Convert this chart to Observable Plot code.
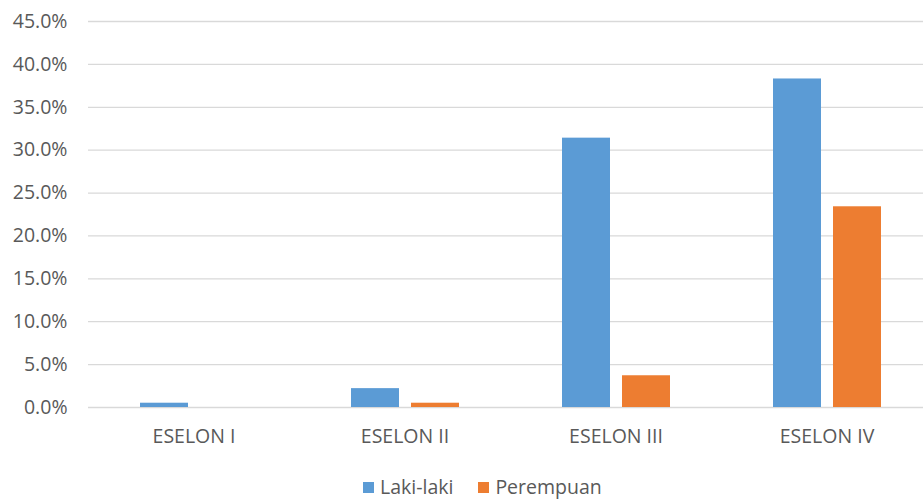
<!DOCTYPE html>
<html>
<head>
<meta charset="utf-8">
<script src="https://cdn.jsdelivr.net/npm/d3@7"></script>
<script src="https://cdn.jsdelivr.net/npm/@observablehq/plot@0.6"></script>
<style>
  body { margin: 0; background: #fff; font-family: "Open Sans", "Noto Sans", sans-serif; overflow: hidden; }
  #chart { width: 923px; height: 460px; overflow: hidden; }
  #chart svg { max-width: none !important; }
  #chart svg text { font-size: 19.5px !important; fill: #595959; }
  #legend { display: flex; align-items: center; height: 36px; margin-top: 9px; padding-left: 363px; font-size: 19.5px; line-height: 1; color: #595959; }
  #legend .item { display: flex; align-items: center; margin-right: 25px; }
  #legend .sw { width: 11px; height: 11px; margin-right: 6px; }
</style>
</head>
<body>
<div id="chart"></div>
<div id="legend"></div>
<script>
const categories = ["ESELON I", "ESELON II", "ESELON III", "ESELON IV"];
const series = ["Laki-laki", "Perempuan"];
const laki = [0.5, 2.2, 31.4, 38.3];
const perempuan = [0, 0.5, 3.7, 23.4];
const yTicks = [0, 5, 10, 15, 20, 25, 30, 35, 40, 45];
const colors = ["#5b9bd5", "#ed7d31"];

const data = [];
categories.forEach((c, i) => {
  data.push({cat: c, series: series[0], value: laki[i]});
  data.push({cat: c, series: series[1], value: perempuan[i]});
});

const chart = Plot.plot({
  width: 932,
  height: 460,
  marginLeft: 88,
  marginRight: 0,
  marginTop: 21,
  marginBottom: 53,
  style: {fontFamily: "'Open Sans', 'Noto Sans', sans-serif", fontSize: "19.5px", color: "#595959", background: "#fff", overflow: "visible"},
  fx: {domain: categories, padding: 0, label: null, axis: "bottom", tickSize: 0, tickPadding: 22},
  x: {domain: series, axis: null, paddingInner: 0.2, paddingOuter: 0.857},
  y: {domain: [0, 45], ticks: yTicks, tickFormat: d => d.toFixed(1) + "%", label: null, tickSize: 0, tickPadding: 21},
  color: {domain: series, range: colors},
  marks: [
    Plot.ruleY(yTicks, {stroke: "#d9d9d9", strokeWidth: 1.3}),
    Plot.barY(data, {fx: "cat", x: "series", y: "value", fill: "series"})
  ]
});
document.getElementById("chart").appendChild(chart);

const legend = document.getElementById("legend");
series.forEach((s, i) => {
  const item = document.createElement("div");
  item.className = "item";
  const sw = document.createElement("div");
  sw.className = "sw";
  sw.style.background = colors[i];
  const t = document.createElement("span");
  t.textContent = s;
  item.appendChild(sw);
  item.appendChild(t);
  legend.appendChild(item);
});
</script>
</body>
</html>
